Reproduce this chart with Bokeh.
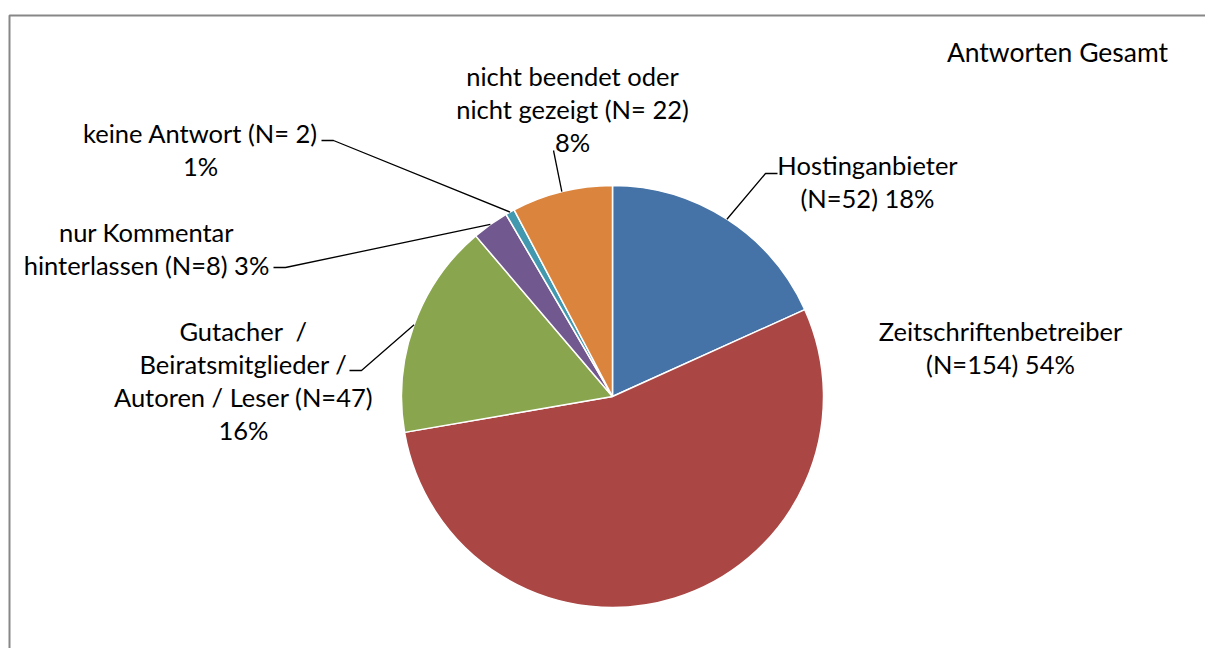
import math
from bokeh.plotting import figure
from bokeh.models import Range1d, ColumnDataSource
from bokeh.core.properties import value
from bokeh.embed import file_html
from bokeh.resources import INLINE

# ---- data ----
categories = ["Hostinganbieter", "Zeitschriftenbetreiber",
              "Gutacher / Beiratsmitglieder / Autoren / Leser",
              "nur Kommentar hinterlassen", "keine Antwort",
              "nicht beendet oder nicht gezeigt"]
counts = [52, 154, 47, 8, 2, 22]
label_texts = ["Hostinganbieter\n(N=52) 18%",
               "Zeitschriftenbetreiber\n(N=154) 54%",
               "Gutacher \u00a0/\nBeiratsmitglieder /\nAutoren / Leser (N=47)\n16%",
               "nur Kommentar\nhinterlassen (N=8) 3%",
               "keine Antwort (N= 2)\n1%",
               "nicht beendet oder\nnicht gezeigt (N= 22)\n8%"]
colors = ["#4572A7", "#AA4643", "#89A54E", "#71588F", "#4198AF", "#DB843D"]
title = "Antworten Gesamt"

# ---- layout (picture pixel coords, y converted) ----
W, H = 1205, 648
def Y(py):
    return H - py

cx, cy, R = 612, Y(396), 211
FONT = "Lato"
FS = 25.5

p = figure(width=W, height=H, output_backend="svg", toolbar_location=None,
           x_range=Range1d(0, W), y_range=Range1d(0, H),
           min_border=0, outline_line_color=None)
p.axis.visible = False
p.grid.visible = False
p.background_fill_color = "white"
p.border_fill_color = "white"

# frame
p.line(x=[9, 9, 1230], y=[Y(680), Y(15), Y(15)], line_color="#878787", line_width=2)

total = sum(counts)
starts, ends, mids = [], [], []
cum = 0
for c in counts:
    a0 = math.pi / 2 - 2 * math.pi * cum / total
    cum += c
    a1 = math.pi / 2 - 2 * math.pi * cum / total
    starts.append(a0); ends.append(a1); mids.append((a0 + a1) / 2)

src = ColumnDataSource(dict(start=starts, end=ends, color=colors, cat=categories, n=counts))
p.wedge(x=cx, y=cy, radius=R, start_angle="start", end_angle="end",
        direction="clock", fill_color="color", line_color="white", line_width=1.5, source=src)

# leader lines: from pie edge at mid-angle to elbow to end
elbows = {0: [(765, 173), (777, 173)],
          2: [(361, 370), (349, 370)],
          3: [(285, 267), (273, 267)],
          4: [(333, 140), (321, 140)],
          5: [(553, 150)]}
xs, ys = [], []
for i, pts in elbows.items():
    px = cx + R * math.cos(mids[i])
    py = cy + R * math.sin(mids[i])
    xs.append([px] + [q[0] for q in pts])
    ys.append([py] + [Y(q[1]) for q in pts])
p.multi_line(xs=xs, ys=ys, line_color="black", line_width=1.3)

# labels
lab_pos = [(867, 181), (1000, 347), (243, 380),
           (146, 248), (200, 149), (572, 108)]
for t, (lx, ly) in zip(label_texts, lab_pos):
    p.text(x=[lx], y=[Y(ly)], text=[t], text_align="center", text_baseline="middle",
           text_font=value(FONT), text_font_size=f"{FS}px", text_color="#000000",
           text_line_height=1.1)

p.text(x=[1057], y=[Y(51)], text=[title], text_align="center", text_baseline="middle",
       text_font=value(FONT), text_font_size="26.5px", text_color="#000000")

open("out.html", "w").write(file_html(p, INLINE))
